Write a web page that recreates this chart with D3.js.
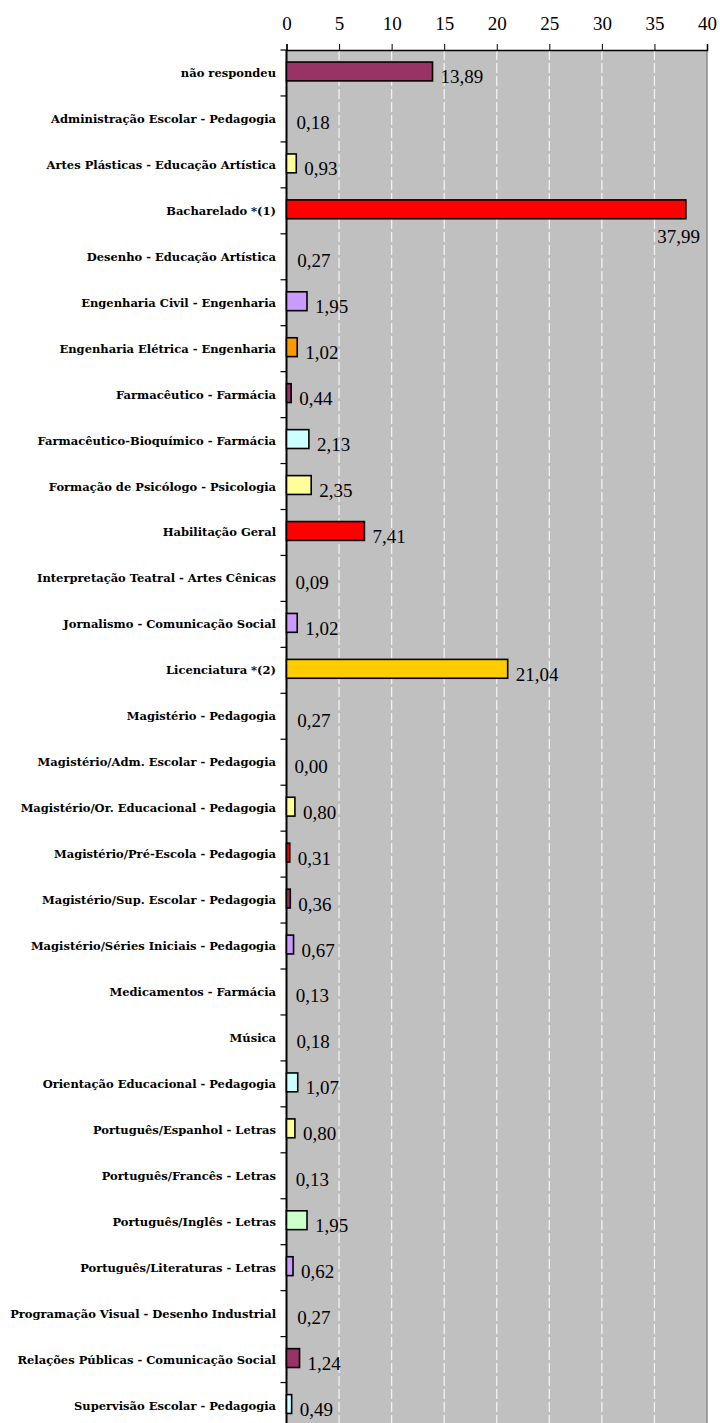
<!DOCTYPE html>
<html><head><meta charset="utf-8">
<script src="https://cdn.jsdelivr.net/npm/d3@7"></script>
<style>body{margin:0;background:#fff}svg{display:block}</style>
</head><body><svg id="c" width="720" height="1423"></svg>
<script>
const categories = ["não respondeu","Administração Escolar - Pedagogia","Artes Plásticas - Educação Artística","Bacharelado *(1)","Desenho - Educação Artística","Engenharia Civil - Engenharia","Engenharia Elétrica - Engenharia","Farmacêutico - Farmácia","Farmacêutico-Bioquímico - Farmácia","Formação de Psicólogo - Psicologia","Habilitação Geral","Interpretação Teatral - Artes Cênicas","Jornalismo - Comunicação Social","Licenciatura *(2)","Magistério - Pedagogia","Magistério/Adm. Escolar - Pedagogia","Magistério/Or. Educacional - Pedagogia","Magistério/Pré-Escola - Pedagogia","Magistério/Sup. Escolar - Pedagogia","Magistério/Séries Iniciais - Pedagogia","Medicamentos - Farmácia","Música","Orientação Educacional - Pedagogia","Português/Espanhol - Letras","Português/Francês - Letras","Português/Inglês - Letras","Português/Literaturas - Letras","Programação Visual - Desenho Industrial","Relações Públicas - Comunicação Social","Supervisão Escolar - Pedagogia"];
const values = [13.89,0.18,0.93,37.99,0.27,1.95,1.02,0.44,2.13,2.35,7.41,0.09,1.02,21.04,0.27,0.00,0.80,0.31,0.36,0.67,0.13,0.18,1.07,0.80,0.13,1.95,0.62,0.27,1.24,0.49];
const colors = ["#993366","none","#FFFF99","#FF0000","none","#CC99FF","#FF9900","#993366","#CCFFFF","#FFFF99","#FF0000","none","#CC99FF","#FFCC00","none","none","#FFFF99","#FF0000","#993366","#CC99FF","none","none","#CCFFFF","#FFFF99","none","#CCFFCC","#CC99FF","none","#993366","#CCFFFF"];
const ticks = [0,5,10,15,20,25,30,35,40];

const svg = d3.select("#c");
const L = 286.5, R = 707, T = 50, STEP = 45.95;
const B = T + STEP * categories.length;
const x = d3.scaleLinear().domain([0,40]).range([L,R]);
const y = d3.scaleBand().domain(categories).range([T,B]).paddingInner(0.59).paddingOuter(0.295);
const yb = d3.scaleBand().domain(categories).range([T,B]);

svg.append("rect").attr("x",L).attr("y",T).attr("width",R-L).attr("height",B-T).attr("fill","#C0C0C0");
// grid
svg.append("g").selectAll("line").data(ticks.filter(t=>t>0&&t<40)).join("line")
  .attr("x1",d=>x(d)).attr("x2",d=>x(d)).attr("y1",T).attr("y2",B)
  .attr("stroke","#F2F2F2").attr("stroke-width",1.3).attr("stroke-dasharray","10,3");
svg.append("line").attr("x1",R).attr("x2",R).attr("y1",T).attr("y2",B).attr("stroke","#8C8C8C").attr("stroke-width",1.5);

// top axis
const ax = svg.append("g").attr("transform",`translate(0,${T})`)
  .call(d3.axisTop(x).tickValues(ticks).tickSize(6).tickPadding(14).tickFormat(d3.format("d")));
ax.select(".domain").attr("stroke","#000").attr("stroke-width",1.5);
ax.selectAll(".tick line").attr("stroke","#000");
ax.selectAll("text").attr("font-family","Liberation Serif").attr("font-size",19).attr("fill","#000");

// left axis line + ticks at band boundaries
svg.append("line").attr("x1",L).attr("x2",L).attr("y1",T).attr("y2",B).attr("stroke","#000").attr("stroke-width",2);
svg.append("g").selectAll("line").data(d3.range(categories.length+1)).join("line")
  .attr("x1",L-6).attr("x2",L).attr("y1",i=>T+i*STEP).attr("y2",i=>T+i*STEP)
  .attr("stroke","#000").attr("stroke-width",1.2);

// category labels
svg.append("g").selectAll("text").data(categories).join("text")
  .attr("x",276).attr("y",d=>yb(d)+yb.bandwidth()/2+4)
  .attr("text-anchor","end").attr("font-family","DejaVu Serif").attr("font-weight","bold")
  .attr("font-size",11.5).attr("fill","#000").text(d=>d);

// bars
const data = categories.map((c,i)=>({c,v:values[i],col:colors[i]}));
svg.append("g").selectAll("rect").data(data.filter(d=>d.col!=="none")).join("rect")
  .attr("x",x(0)).attr("y",d=>y(d.c)-1.5).attr("width",d=>x(d.v)-x(0)).attr("height",y.bandwidth())
  .attr("fill",d=>d.col).attr("stroke","#000").attr("stroke-width",1.6);

// value labels
const fmt = v => v.toFixed(2).replace(".",",");
svg.append("g").selectAll("text").data(data).join("text")
  .attr("font-family","Liberation Serif").attr("font-size",19).attr("fill","#000")
  .each(function(d){
    const t = d3.select(this).text(fmt(d.v));
    const w = this.getComputedTextLength();
    const cx = yb(d.c)+yb.bandwidth()/2;
    const px = x(d.v)+8;
    if (px + w > R) {
      t.attr("x", R-7).attr("y", cx+32).attr("text-anchor","end");
    } else {
      t.attr("x", px).attr("y", cx+10.5);
    }
  });
</script></body></html>
